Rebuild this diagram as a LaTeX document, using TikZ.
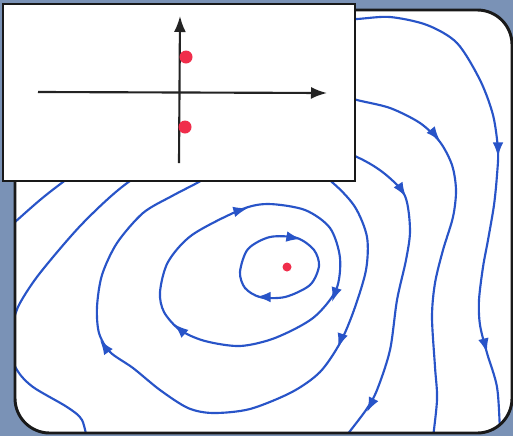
\documentclass[tikz,border=0pt]{standalone}
\usetikzlibrary{arrows.meta}
\definecolor{bgc}{RGB}{122,146,182}
\definecolor{flow}{RGB}{40,84,200}
\definecolor{dotred}{RGB}{240,45,75}
\definecolor{axc}{RGB}{35,35,35}
\tikzset{
  flowline/.style={draw=flow, line width=1.6pt, line cap=round, line join=round},
  flowtip/.style={draw=flow, line width=1.6pt, -{Latex[length=11pt,width=8pt]}},
  axisline/.style={draw=axc, line width=1.6pt, -{Latex[length=12pt,width=9pt]}},
  bigdot/.style={circle, fill=dotred, inner sep=0pt, minimum size=9.75pt},
  smalldot/.style={circle, fill=dotred, inner sep=0pt, minimum size=6.75pt},
  framebox/.style={draw=black!90, line width=2.2pt},
}
\begin{document}
\begin{tikzpicture}[x=0.75pt,y=-0.75pt]
\fill[bgc] (0,0) rectangle (513,436);
\useasboundingbox (0,0) rectangle (513,436);
% main frame
\fill[white] [rounded corners=26pt] (15,10) rectangle (512,433);
\begin{scope}
\clip[rounded corners=26pt] (15,10) rectangle (512,433);
% A inner
\draw[flowline] plot[smooth cycle] coordinates {(240,272) (248,249) (270,237) (297,238) (314,250) (319,266) (310,285) (285,297) (260,297) (245,288)};
\draw[flowtip] (289,237) -- (301,239);
\draw[flowtip] (267,297) -- (256,297);
% B
\draw[flowline] plot[smooth cycle] coordinates {(160,292) (168,262) (192,235) (240,210) (268,204) (305,210) (330,228) (340,258) (336,290) (313,318) (275,338) (240,346) (205,341) (180,330) (164,312)};
\draw[flowtip] (237,211) -- (248,208);
\draw[flowtip] (336,290) -- (332,302);
\draw[flowtip] (184,333) -- (174,324);
% C closed
\draw[flowline] plot[smooth cycle] coordinates {(197,183) (240,160) (300,160) (333,183) (355,207) (367,237) (366,270) (354,310) (340,343) (320,372) (292,392) (250,409) (213,413) (188,408) (160,390) (133,368) (110,352) (99,333) (97,307) (102,275) (117,243) (143,213) (172,196)};
\draw[flowtip] (342,336) -- (338,348);
\draw[flowtip] (107,350) -- (100,340);
% D
\draw[flowline] plot[smooth] coordinates {(88,445) (82,420) (67,407) (33,387) (17,370) (8,345) (13,322) (20,303) (40,273) (83,223) (130,181) (190,150) (300,135) (357,157) (385,174) (405,196) (410,230) (406,260) (397,300) (390,350) (377,390) (366,410) (343,440)};
\draw[flowtip] (399,186) -- (406,197);
\draw[flowtip] (373,400) -- (367,412);
% E
\draw[flowline] plot[smooth] coordinates {(-5,240) (15,222) (40,200) (63,182) (120,140) (250,90) (330,92) (357,100) (390,108) (420,123) (440,142) (452,165) (456,190) (453,217) (443,250) (435,283) (432,317) (435,367) (437,400) (432,445)};
\draw[flowtip] (431,130) -- (440,141);
% F
\draw[flowline] plot[smooth] coordinates {(330,20) (357,19) (390,17) (427,25) (457,43) (480,80) (493,115) (498,150) (497,175) (494,205) (488,240) (483,267) (479,300) (480,325) (487,353) (497,387) (500,430) (501,445)};
\draw[flowtip] (498,145) -- (498,157);
\draw[flowtip] (484,341) -- (487,353);
\end{scope}
\draw[framebox, rounded corners=26pt] (15,10) rectangle (512,433);
\node[smalldot] (eq) at (287,267) {};
% inset
\draw[framebox, fill=white] (3,4) rectangle (355,181);
\coordinate (xs) at (38,92);
\coordinate (xe) at (327,93);
\coordinate (ys) at (179,163);
\coordinate (ye) at (180,16);
\draw[axisline] (xs) -- (xe);
\draw[axisline] (ys) -- (ye);
\node[bigdot] (ev1) at (186,57) {};
\node[bigdot] (ev2) at (185,127) {};
\end{tikzpicture}
\end{document}
